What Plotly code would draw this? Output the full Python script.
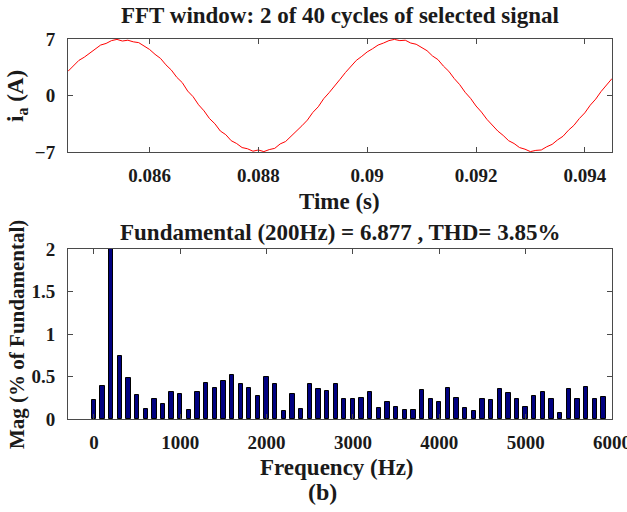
import plotly.graph_objects as go

# ---- time-domain signal ----
t_start = 0.0845
t_step = 0.0001
ia_values = [
    3.00, 3.65, 4.35, 4.75, 5.25, 5.70, 6.25, 6.45, 6.80, 6.95,
    6.75, 6.85, 6.65, 6.55, 6.10, 5.70, 5.10, 4.60, 3.80, 3.15,
    2.25, 1.60, 0.55, -0.15, -1.15, -1.90, -2.85, -3.50, -4.40, -4.85,
    -5.60, -5.95, -6.45, -6.60, -6.90, -6.75, -6.95, -6.70, -6.55, -6.00,
    -5.70, -5.05, -4.50, -3.75, -3.05, -2.10, -1.40, -0.40, 0.35, 1.25,
    2.00, 2.85, 3.55, 4.35, 4.85, 5.40, 5.80, 6.25, 6.50, 6.80,
    6.95, 6.80, 6.85, 6.50, 6.35, 5.90, 5.55, 4.90, 4.45, 3.65,
    3.00, 2.10, 1.35, 0.40, -0.35, -1.30, -2.05, -2.95, -3.65, -4.40,
    -4.95, -5.60, -5.95, -6.45, -6.65, -6.95, -6.80, -6.75, -6.35, -6.05,
    -5.50, -5.05, -4.30, -3.70, -2.85, -2.15, -1.20, -0.45, 0.50, 1.25,
    2.10,
]
time_values = [round(t_start + i * t_step, 6) for i in range(len(ia_values))]

# ---- harmonic spectrum ----
freq_hz = [i * 100 for i in range(60)]
mag_pct = [
    0.22, 0.39, 100.0, 0.74, 0.48, 0.28, 0.12, 0.23, 0.18, 0.32,
    0.29, 0.11, 0.32, 0.42, 0.37, 0.45, 0.52, 0.41, 0.36, 0.27,
    0.50, 0.41, 0.09, 0.29, 0.12, 0.41, 0.35, 0.33, 0.41, 0.23,
    0.23, 0.25, 0.32, 0.13, 0.20, 0.14, 0.11, 0.11, 0.34, 0.23,
    0.20, 0.36, 0.25, 0.13, 0.09, 0.23, 0.22, 0.35, 0.31, 0.24,
    0.14, 0.27, 0.32, 0.24, 0.07, 0.35, 0.24, 0.38, 0.23, 0.26,
]

top_xticks = [0.086, 0.088, 0.09, 0.092, 0.094]
top_xticklabels = ["0.086", "0.088", "0.09", "0.092", "0.094"]
top_yticks = [-7, 0, 7]
bot_xticks = [0, 1000, 2000, 3000, 4000, 5000, 6000]
bot_yticks = [0, 0.5, 1, 1.5, 2]
bot_yticklabels = ["0", "0.5", "1", "1.5", "2"]

W, H = 627, 512
FONT = "Liberation Serif"
AX = "#4a4a4a"
TXT = "#1a1a1a"

fig = go.Figure()
fig.add_trace(go.Scatter(x=time_values, y=ia_values, mode="lines",
                         line=dict(color="#ff0000", width=1),
                         xaxis="x", yaxis="y", showlegend=False, hoverinfo="skip"))
fig.add_trace(go.Bar(x=freq_hz, y=mag_pct, width=50,
                     marker=dict(color="#000080", line=dict(color="#000000", width=1)),
                     xaxis="x2", yaxis="y2", showlegend=False, hoverinfo="skip"))

def px(x):
    return x / W

def py(y):
    return 1 - y / H

tickfont = dict(family=FONT, size=19, color=TXT, weight="bold")
axis_common = dict(showline=True, mirror="ticks", linecolor=AX, linewidth=1,
                   ticks="inside", ticklen=5, tickcolor=AX, showgrid=False,
                   zeroline=False, tickfont=tickfont, ticklabeloverflow="allow",
                   automargin=False)

fig.update_layout(
    template="none",
    width=W, height=H,
    margin=dict(l=0, r=0, t=0, b=0, pad=0),
    paper_bgcolor="white", plot_bgcolor="white",
    font=dict(family=FONT, color=TXT),
    xaxis=dict(domain=[px(68), px(612)], range=[0.0845, 0.0945],
               tickvals=top_xticks, ticktext=top_xticklabels, anchor="y",
               ticklabelstandoff=6, **axis_common),
    yaxis=dict(domain=[py(152), py(39)], range=[-7, 7],
               tickvals=top_yticks, anchor="x", ticklabelstandoff=8, **axis_common),
    xaxis2=dict(domain=[px(68), px(612)], range=[-300, 6000],
                tickvals=bot_xticks, anchor="y2", ticklabelstandoff=6, **axis_common),
    yaxis2=dict(domain=[py(419), py(249)], range=[0, 2],
                tickvals=bot_yticks, ticktext=bot_yticklabels, anchor="x2",
                ticklabelstandoff=8, **axis_common),
    bargap=0,
)

def ann(text, x, y, size, angle=0):
    fig.add_annotation(text=text, x=px(x), y=py(y), xref="paper", yref="paper",
                       showarrow=False, textangle=angle,
                       font=dict(family=FONT, size=size, color=TXT),
                       xanchor="center", yanchor="middle")

ann("<b>FFT window: 2 of 40 cycles of selected signal</b>", 340, 15, 23)
ann("<b>Time (s)</b>", 339, 201, 23)
ann("<b>Fundamental (200Hz) = 6.877 , THD= 3.85%</b>", 340, 232, 23)
ann("<b>Frequency (Hz)</b>", 337, 467, 23)
ann("<b>(b)</b>", 322, 492, 24)
ann("<b>i<sub>a</sub> (A)</b>", 17, 96, 23, -90)
ann("<b>Mag (% of Fundamental)</b>", 17, 335, 21, -90)

fig.write_html(
    "out.html",
    config={"displayModeBar": False},
    post_script="document.body.style.margin='0';document.body.style.overflow='hidden';",
)
